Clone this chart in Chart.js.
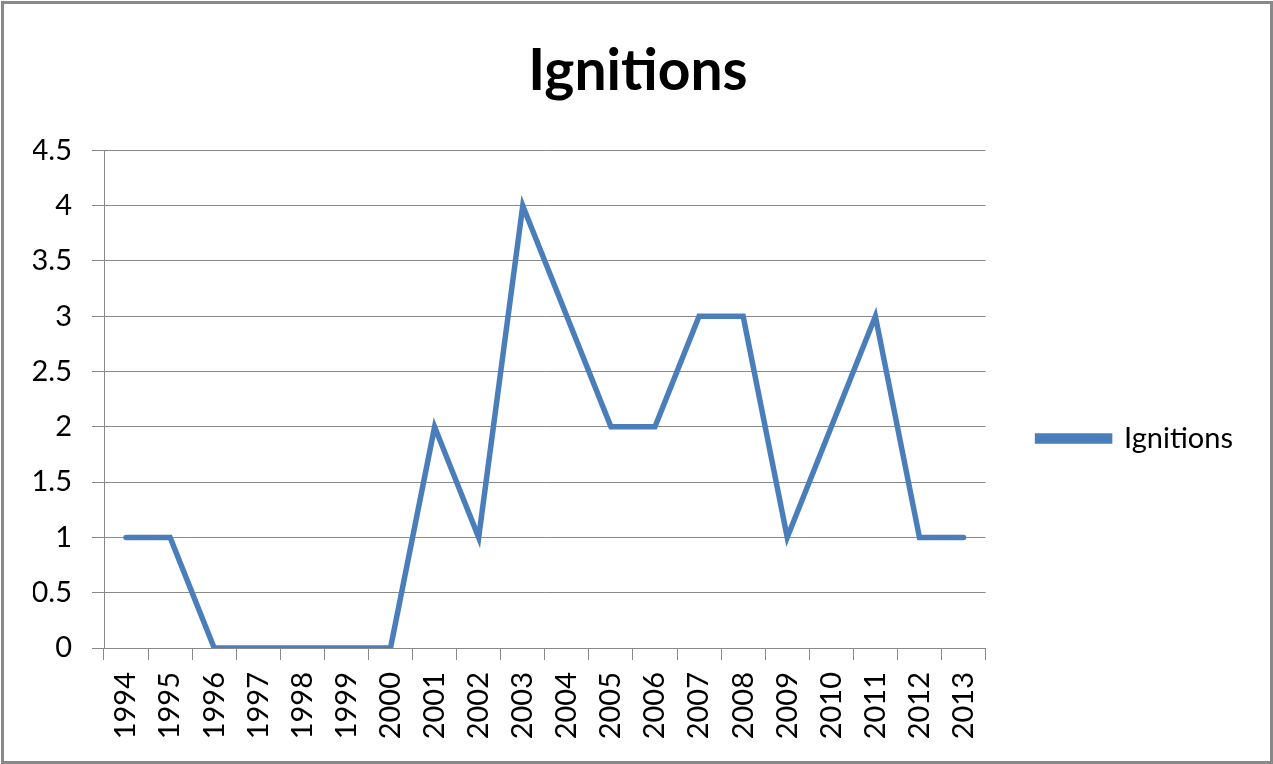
<!DOCTYPE html>
<html>
<head>
<meta charset="utf-8">
<script src="https://cdn.jsdelivr.net/npm/chart.js@4.4.1/dist/chart.umd.min.js"></script>
<style>
  html, body { margin: 0; padding: 0; background: #fff; }
  #wrap { position: relative; width: 1273px; height: 764px; }
  #frame { position: absolute; left: 1px; top: 1px; width: 1266px; height: 757px; border: 3px solid #898989; pointer-events: none; }
</style>
</head>
<body>
<div id="wrap">
  <canvas id="c" width="1273" height="764"></canvas>
  <div id="frame"></div>
</div>
<script>
const chartTitle = "Ignitions";
const seriesName = "Ignitions";
const years = ["1994","1995","1996","1997","1998","1999","2000","2001","2002","2003","2004","2005","2006","2007","2008","2009","2010","2011","2012","2013"];
const ignitions = [1, 1, 0, 0, 0, 0, 0, 2, 1, 4, 3, 2, 2, 3, 3, 1, 2, 3, 1, 1];
const yMin = 0, yMax = 4.5, yStep = 0.5;

const FONT = "Lato, 'Open Sans', sans-serif";
const GRID = "#898989";
const BLUE = "#4a7ebb";

new Chart(document.getElementById('c'), {
  type: 'line',
  data: {
    labels: years,
    datasets: [{
      label: seriesName,
      data: ignitions,
      borderColor: BLUE,
      backgroundColor: BLUE,
      borderWidth: 5.5,
      borderJoinStyle: 'miter',
      borderCapStyle: 'round',
      pointRadius: 0,
      pointHoverRadius: 0,
      tension: 0,
      fill: false
    }]
  },
  options: {
    responsive: false,
    animation: false,
    events: [],
    layout: { padding: { top: 0, left: 33, right: 30, bottom: 0 } },
    plugins: {
      title: {
        display: true,
        text: chartTitle,
        color: '#000',
        font: { family: FONT, size: 57, weight: 'bold', lineHeight: 1.2 },
        padding: { top: 37, bottom: 45 }
      },
      legend: {
        display: true,
        position: 'right',
        title: { display: true, text: ' ', font: { size: 10, lineHeight: 1 }, padding: { top: 103, bottom: 0 } },
        labels: {
          color: '#000',
          font: { family: FONT, size: 29 },
          boxWidth: 72,
          boxHeight: 5,
          padding: 52
        }
      },
      tooltip: { enabled: false }
    },
    scales: {
      x: {
        offset: true,
        grid: { display: true, drawOnChartArea: false, drawTicks: true, tickLength: 12, offset: true, color: GRID, lineWidth: 1 },
        border: { display: true, color: GRID, width: 1 },
        ticks: { color: '#000', font: { family: FONT, size: 29 }, minRotation: 90, maxRotation: 90, padding: 12, autoSkip: false },
        afterFit: (s) => { s.height = 116; }
      },
      y: {
        min: yMin,
        max: yMax,
        grid: { display: true, drawOnChartArea: true, drawTicks: true, tickLength: 12, color: GRID, lineWidth: 1 },
        border: { display: true, color: GRID, width: 1 },
        ticks: { color: '#000', font: { family: FONT, size: 29 }, stepSize: yStep, padding: 20,
                 callback: (v) => String(Math.round(v * 10) / 10) },
        afterFit: (s) => { s.width = 71; }
      }
    }
  }
});
</script>
</body>
</html>
